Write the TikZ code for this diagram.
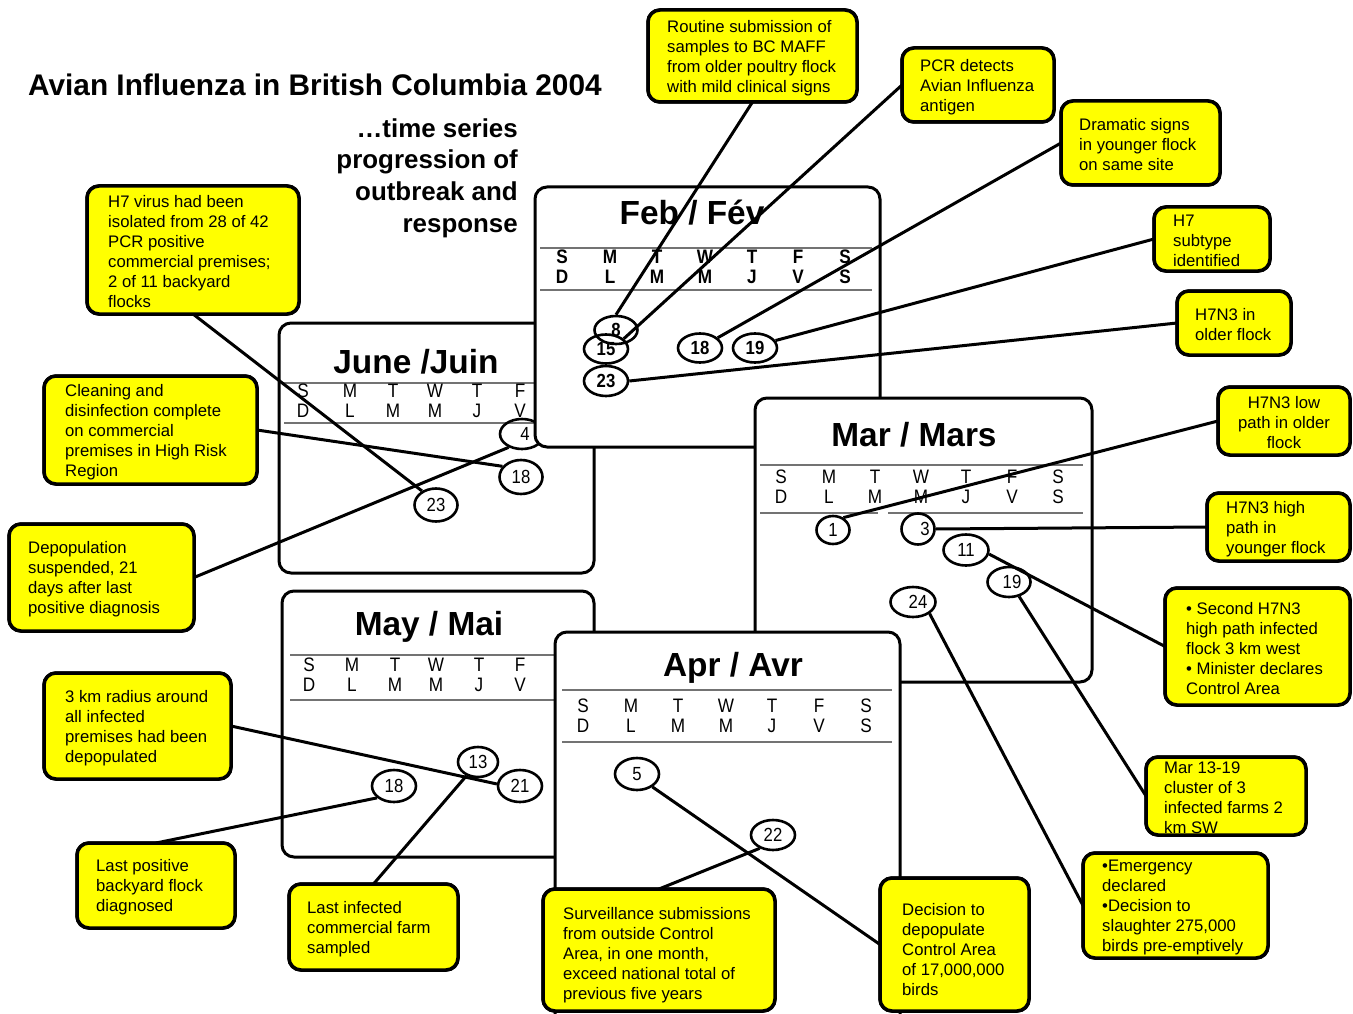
\documentclass[tikz,border=0pt]{standalone}
\usepackage{fontspec}
\setmainfont{Liberation Sans}
\newfontfamily\narrowfont[FakeStretch=0.88]{Liberation Sans}
\usetikzlibrary{shapes.geometric}
\definecolor{cyellow}{HTML}{FFFF00}
\begin{document}
\begin{tikzpicture}[x=1pt,y=-1pt,
  calbox/.style={draw=black, line width=3pt, fill=white, rounded corners=12pt},
  calline/.style={draw=black!55, line width=2pt},
  mtitle/.style={font=\bfseries\fontsize{33.4}{40}\selectfont, inner sep=0pt},
  days/.style={font=\narrowfont\fontsize{19.5}{20}\selectfont, align=center, inner sep=0pt},
  fdays/.style={days, font=\narrowfont\bfseries\fontsize{19.5}{20}\selectfont},
  dnum/.style={ellipse, draw=black, line width=2.6pt, minimum width=44pt, minimum height=30pt, inner sep=0pt, font=\narrowfont\fontsize{19}{20}\selectfont},
  fnum/.style={dnum, font=\narrowfont\bfseries\fontsize{19}{20}\selectfont},
  cbox/.style={draw=black, line width=3.5pt, fill=cyellow, rounded corners=12pt, inner sep=0pt, outer sep=0pt, anchor=north west},
  ctext/.style={font=\fontsize{16.7}{20}\selectfont, align=left, inner sep=0pt, anchor=west, yshift=-2pt},
  conn/.style={draw=black, line width=3pt},
]
\useasboundingbox (0,0) rectangle (1353,1014);
\clip (0,0) rectangle (1353,1014);
\fill[white] (0,0) rectangle (1353,1014);

% titles
\node[font=\bfseries\fontsize{29.8}{36}\selectfont, anchor=west, inner sep=0pt] (title) at (28,85) {Avian Influenza in British Columbia 2004};
\node[font=\bfseries\fontsize{25.9}{31.6}\selectfont, align=right, anchor=east, inner sep=0pt] (subtitle) at (518,178) {…time series\\progression of\\outbreak and\\response};

% June
\draw[calbox] (279,323) rectangle (594,573);
\node[mtitle] (junT) at (416,362) {June /Juin};
\draw[calline] (284,383) -- (590,383);
\draw[calline] (284,423) -- (590,423);
\foreach \x/\a/\b in {303/S/D, 350/M/L, 393/T/M, 435/W/M, 477/T/J, 520/F/V, 562/S/S}
  \node[days] (jund\x) at (\x,401) {\a\\\b};
\node[dnum] (j4) at (522,434) {\hspace{6pt}4};
\node[dnum, minimum width=43pt, minimum height=34pt] (j18) at (521,477) {\raisebox{-5pt}{18}};
\node[dnum, minimum width=43pt, minimum height=33pt] (j23) at (436,505) {23};

% Feb
\draw[calbox] (535,187) rectangle (880,447);
\node[mtitle] (febT) at (692,213) {Feb / Fév};
\draw[calline] (540,248) -- (872,248);
\draw[calline] (540,290) -- (872,290);
\foreach \x/\a/\b in {562/S/D, 610/M/L, 657/T/M, 705/W/M, 752/T/J, 798/F/V, 845/S/S}
  \node[fdays] (febd\x) at (\x,267) {\a\\\b};
\node[fnum, minimum width=43pt, minimum height=28pt] (f8) at (616,330) {8};
\node[fnum, minimum height=29pt] (f15) at (606,349) {15};
\node[fnum] (f23) at (606,381) {23};
\node[fnum, minimum height=29pt] (f18) at (700,348) {18};
\node[fnum, minimum height=29pt] (f19) at (755,348) {19};

% Mar
\draw[calbox] (755,398) rectangle (1092,682);
\node[mtitle] (marT) at (914,435) {Mar / Mars};
\draw[calline] (760,465) -- (1083,465);
\draw[calline] (760,513) -- (878,513);
\draw[calline] (888,513) -- (1083,513);
\foreach \x/\a/\b in {781/S/D, 829/M/L, 875/T/M, 921/W/M, 966/T/J, 1012/F/V, 1058/S/S}
  \node[days] (mard\x) at (\x,487) {\a\\\b};
\node[dnum, minimum width=33pt, minimum height=28pt] (m1) at (833,530) {1};
\node[dnum, minimum width=33pt, minimum height=31pt] (m3) at (918,529) {\hspace{14pt}3};
\node[dnum, minimum width=45pt, minimum height=31pt] (m11) at (966,550) {11};
\node[dnum, minimum width=43pt] (m19) at (1009,582) {\hspace{6pt}19};
\node[dnum, minimum width=45pt] (m24) at (913,602) {\hspace{10pt}24};

% May
\draw[calbox] (282,591) rectangle (594,857);
\node[mtitle] (mayT) at (429,627) {May / Mai};
\draw[calline] (290,655) -- (590,655);
\draw[calline] (290,700) -- (590,700);
\foreach \x/\a/\b in {309/S/D, 352/M/L, 395/T/M, 436/W/M, 479/T/J, 520/F/V, 562/S/S}
  \node[days] (mayd\x) at (\x,675) {\a\\\b};
\node[dnum, minimum width=40pt] (y13) at (478,762) {13};
\node[dnum, minimum height=32pt] (y21) at (520,786) {21};
\node[dnum, minimum height=32pt] (y18) at (394,786) {18};

% Apr
\draw[calbox] (555,1040) -- (555,632) -- (900,632) -- (900,1040);
\node[mtitle] (aprT) at (733,668) {Apr / Avr};
\draw[calline] (562,690) -- (892,690);
\draw[calline] (562,742) -- (892,742);
\foreach \x/\a/\b in {583/S/D, 631/M/L, 678/T/M, 726/W/M, 772/T/J, 819/F/V, 866/S/S}
  \node[days] (aprd\x) at (\x,716) {\a\\\b};
\node[dnum, minimum height=32pt] (a5) at (637,774) {\raisebox{-4pt}{5}};
\node[dnum] (a22) at (773,835) {22};

% callout boxes
\node[cbox, minimum width=209pt, minimum height=92pt] (routine) at (648,10) {};
\node[cbox, minimum width=152pt, minimum height=74pt] (pcr) at (902,48) {};
\node[cbox, minimum width=159pt, minimum height=84pt] (dramatic) at (1061,101) {};
\node[cbox, minimum width=116pt, minimum height=64pt] (h7sub) at (1154,207) {};
\node[cbox, minimum width=114pt, minimum height=64pt] (older) at (1177,291) {};
\node[cbox, minimum width=132pt, minimum height=68pt] (lowpath) at (1218,387) {};
\node[cbox, minimum width=143pt, minimum height=68pt] (highpath) at (1207,493) {};
\node[cbox, minimum width=185pt, minimum height=117pt] (second) at (1165,588) {};
\node[cbox, minimum width=160pt, minimum height=78pt] (mar1319) at (1146,757) {};
\node[cbox, minimum width=185pt, minimum height=105pt] (emerg) at (1083,853) {};
\node[cbox, minimum width=149pt, minimum height=133pt] (decision) at (880,878) {};
\node[cbox, minimum width=232pt, minimum height=122pt] (surv) at (543,889) {};
\node[cbox, minimum width=169pt, minimum height=86pt] (lastinf) at (289,884) {};
\node[cbox, minimum width=158pt, minimum height=85pt] (lastpos) at (77,843) {};
\node[cbox, minimum width=187pt, minimum height=106pt] (km) at (44,673) {};
\node[cbox, minimum width=185pt, minimum height=107pt] (depop) at (9,524) {};
\node[cbox, minimum width=213pt, minimum height=108pt] (clean) at (44,376) {};
\node[cbox, minimum width=212pt, minimum height=128pt] (h7v) at (87,186) {};

% connectors
\draw[conn] (routine.south) -- (f8.north);
\draw[conn] (pcr.west) -- (f15.30);
\draw[conn] (dramatic.west) -- (f18.30);
\draw[conn] (h7sub.west) -- (f19.20);
\draw[conn] (older.west) -- (f23.east);
\draw[conn] (lowpath.west) -- (m1.50);
\draw[conn] (highpath.west) -- (m3.east);
\draw[conn] (second.west) -- (m11.-10);
\draw[conn] (mar1319.west) -- (m19.-55);
\draw[conn] (emerg.west) -- (m24.-35);
\draw[conn] (decision.west) -- (a5.-40);
\draw[conn] (surv.north) -- (a22.-135);
\draw[conn] (lastinf.north) -- (y13.-130);
\draw[conn] (lastpos.north) -- (y18.-145);
\draw[conn] (km.east) -- (y21.175);
\draw[conn] (depop.east) -- (j4.-135);
\draw[conn] (clean.east) -- (j18.150);
\draw[conn] (h7v.south) -- (j23.135);

% redraw boxes over connector ends
\foreach \b in {routine,pcr,dramatic,h7sub,older,lowpath,highpath,second,mar1319,emerg,decision,surv,lastinf,lastpos,km,depop,clean,h7v}
  \draw[black, line width=3.5pt, fill=cyellow, rounded corners=12pt] (\b.north west) rectangle (\b.south east);

% callout texts
\node[ctext] (routineT) at ([xshift=19pt]routine.west) {Routine submission of\\samples to BC MAFF\\from older poultry flock\\with mild clinical signs};
\node[ctext] (pcrT) at ([xshift=18pt]pcr.west) {PCR detects\\Avian Influenza\\antigen};
\node[ctext] (dramaticT) at ([xshift=18pt]dramatic.west) {Dramatic signs\\in younger flock\\on same site};
\node[ctext] (h7subT) at ([xshift=19pt]h7sub.west) {H7\\subtype\\identified};
\node[ctext] (olderT) at ([xshift=18pt]older.west) {H7N3 in\\older flock};
\node[ctext, align=center, anchor=center] (lowpathT) at (lowpath.center) {H7N3 low\\path in older\\flock};
\node[ctext] (highpathT) at ([xshift=19pt]highpath.west) {H7N3 high\\path in\\younger flock};
\node[ctext] (secondT) at ([xshift=21pt]second.west) {• Second H7N3\\high path infected\\flock 3 km west\\• Minister declares\\Control Area};
\node[ctext] (mar1319T) at ([xshift=18pt]mar1319.west) {Mar 13-19\\cluster of 3\\infected farms 2\\km SW};
\node[ctext] (emergT) at ([xshift=19pt]emerg.west) {•Emergency\\declared\\•Decision to\\slaughter 275,000\\birds pre-emptively};
\node[ctext] (decisionT) at ([xshift=22pt,yshift=-3pt]decision.west) {Decision to\\depopulate\\Control Area\\of 17,000,000\\birds};
\node[ctext] (survT) at ([xshift=20pt,yshift=-3pt]surv.west) {Surveillance submissions\\from outside Control\\Area, in one month,\\exceed national total of\\previous five years};
\node[ctext] (lastinfT) at ([xshift=18pt]lastinf.west) {Last infected\\commercial farm\\sampled};
\node[ctext] (lastposT) at ([xshift=19pt]lastpos.west) {Last positive\\backyard flock\\diagnosed};
\node[ctext] (kmT) at ([xshift=21pt]km.west) {3 km radius around\\all infected\\premises had been\\depopulated};
\node[ctext] (depopT) at ([xshift=19pt]depop.west) {Depopulation\\suspended, 21\\days after last\\positive diagnosis};
\node[ctext] (cleanT) at ([xshift=21pt]clean.west) {Cleaning and\\disinfection complete\\on commercial\\premises in High Risk\\Region};
\node[ctext] (h7vT) at ([xshift=21pt]h7v.west) {H7 virus had been\\isolated from 28 of 42\\PCR positive\\commercial premises;\\2 of 11 backyard\\flocks};
\end{tikzpicture}
\end{document}
